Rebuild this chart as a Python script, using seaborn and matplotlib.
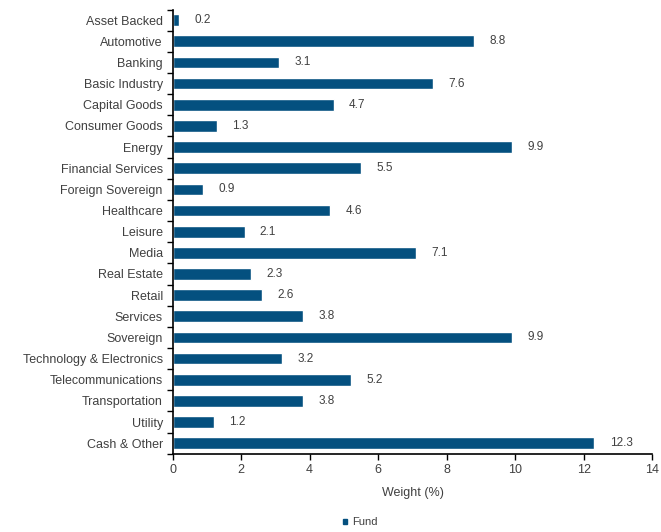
import numpy as np
import pandas as pd
import seaborn as sns
import matplotlib.pyplot as plt
from matplotlib.patches import Patch

sectors = ["Asset Backed", "Automotive", "Banking", "Basic Industry", "Capital Goods",
           "Consumer Goods", "Energy", "Financial Services", "Foreign Sovereign",
           "Healthcare", "Leisure", "Media", "Real Estate", "Retail", "Services",
           "Sovereign", "Technology & Electronics", "Telecommunications",
           "Transportation", "Utility", "Cash & Other"]
weights = [0.2, 8.8, 3.1, 7.6, 4.7, 1.3, 9.9, 5.5, 0.9, 4.6, 2.1, 7.1, 2.3, 2.6,
           3.8, 9.9, 3.2, 5.2, 3.8, 1.2, 12.3]

BAR = "#04507f"
GREY = "#404040"

sns.set_style("white")
plt.rcParams['font.family'] = ['Liberation Sans', 'DejaVu Sans']

df = pd.DataFrame({'Sector': sectors, 'Weight': weights})

fig = plt.figure(figsize=(6.61, 5.32), dpi=100)
ax = fig.add_axes([0.261, 0.147, 0.726, 0.835])
sns.barplot(data=df, x='Weight', y='Sector', color=BAR, width=0.55,
            saturation=1, orient='h', ax=ax)

for i, v in enumerate(weights):
    ax.text(v + 0.45, i, "%.1f" % v, va='center', ha='left', fontsize=8.5, color=GREY)

ax.set_xlim(0, 14)
ax.set_ylim(len(sectors) - 0.5, -0.5)
ax.set_xticks(range(0, 15, 2))
ax.set_xlabel("Weight (%)", fontsize=9, color=GREY, labelpad=8)
ax.set_ylabel("")
ax.tick_params(axis='x', labelsize=9, labelcolor=GREY, direction='out',
               length=4, width=1, color='black', bottom=True, pad=3)
ax.tick_params(axis='y', which='major', labelsize=9, labelcolor=GREY, length=0, pad=7)
ax.set_yticks(np.arange(-0.5, len(sectors)), minor=True)
ax.tick_params(axis='y', which='minor', direction='out', length=4, width=1,
               color='black', left=True)

sns.despine(ax=ax)
for s in ['left', 'bottom']:
    ax.spines[s].set_color('black')
    ax.spines[s].set_linewidth(1.2)

fig.legend(handles=[Patch(color=BAR, label='Fund')], loc='lower center',
           bbox_to_anchor=(0.545, -0.01), frameon=False, fontsize=8,
           handlelength=0.4, handleheight=0.4, handletextpad=0.4,
           labelcolor=GREY)

fig.savefig("out.png", dpi=100)
